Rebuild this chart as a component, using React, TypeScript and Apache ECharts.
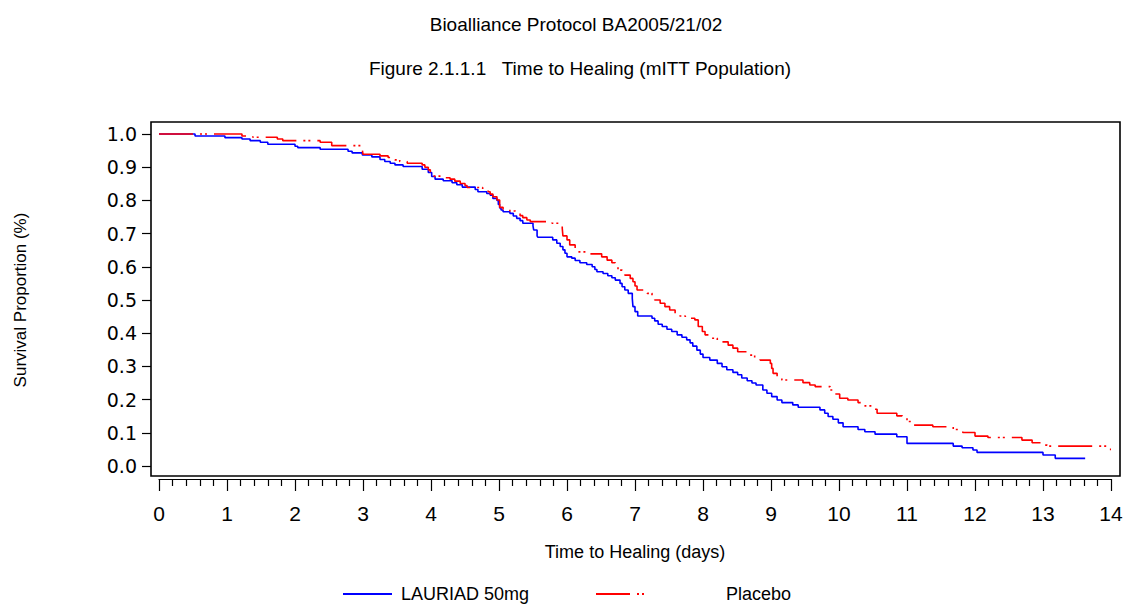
import React, { useEffect, useRef } from "react";
import * as echarts from "echarts";

// Kaplan-Meier steps: [time (days), survival proportion after the step]
const lauriadSteps: [number, number][] = [
  [0, 1.0], [0.53, 0.994], [0.97, 0.989], [1.22, 0.985], [1.34, 0.98], [1.49, 0.975], [1.6, 0.969],
  [2.0, 0.963], [2.04, 0.959], [2.37, 0.954], [2.78, 0.948], [2.84, 0.943], [2.99, 0.937], [3.13, 0.931],
  [3.25, 0.923], [3.32, 0.917], [3.4, 0.912], [3.47, 0.907], [3.59, 0.902], [3.87, 0.894], [3.96, 0.884],
  [4.01, 0.872], [4.06, 0.864], [4.18, 0.859], [4.31, 0.853], [4.38, 0.847], [4.46, 0.84], [4.65, 0.833],
  [4.69, 0.826], [4.82, 0.821], [4.87, 0.816], [4.91, 0.806], [4.97, 0.8], [4.99, 0.788], [5.01, 0.777],
  [5.03, 0.771], [5.06, 0.766], [5.16, 0.761], [5.21, 0.753], [5.26, 0.746], [5.31, 0.739], [5.35, 0.731],
  [5.5, 0.723], [5.51, 0.711], [5.56, 0.693], [5.57, 0.689], [5.79, 0.681], [5.85, 0.671], [5.9, 0.661],
  [5.94, 0.651], [5.97, 0.641], [6.0, 0.63], [6.07, 0.626], [6.12, 0.619], [6.19, 0.612], [6.29, 0.607],
  [6.37, 0.6], [6.41, 0.592], [6.44, 0.585], [6.53, 0.58], [6.6, 0.573], [6.66, 0.567], [6.71, 0.56],
  [6.78, 0.55], [6.81, 0.54], [6.85, 0.53], [6.9, 0.52], [6.96, 0.505], [6.97, 0.48], [7.0, 0.465],
  [7.04, 0.452], [7.25, 0.445], [7.29, 0.437], [7.34, 0.427], [7.4, 0.42], [7.47, 0.412], [7.54, 0.405],
  [7.62, 0.395], [7.69, 0.388], [7.76, 0.38], [7.81, 0.371], [7.85, 0.361], [7.91, 0.349], [7.96, 0.337],
  [8.0, 0.327], [8.1, 0.319], [8.21, 0.309], [8.28, 0.299], [8.35, 0.29], [8.44, 0.282], [8.51, 0.275],
  [8.57, 0.265], [8.65, 0.257], [8.72, 0.25], [8.78, 0.244], [8.88, 0.229], [8.94, 0.219], [9.01, 0.209],
  [9.09, 0.199], [9.16, 0.191], [9.32, 0.184], [9.4, 0.177], [9.72, 0.169], [9.79, 0.159], [9.84, 0.149],
  [9.91, 0.141], [9.99, 0.13], [10.06, 0.118], [10.28, 0.11], [10.38, 0.103], [10.53, 0.096], [10.85, 0.088],
  [11.0, 0.068], [11.68, 0.06], [11.81, 0.055], [11.97, 0.048], [12.03, 0.041], [13.0, 0.033], [13.18, 0.023],
  [13.62, 0.023],
];

const placeboSteps: [number, number][] = [
  [0, 1.0], [1.22, 0.994], [1.38, 0.99], [1.74, 0.985], [1.82, 0.98], [2.37, 0.975], [2.54, 0.965],
  [2.99, 0.952], [3.0, 0.939], [3.25, 0.934], [3.37, 0.929], [3.47, 0.922], [3.54, 0.917], [3.65, 0.912],
  [3.87, 0.907], [3.91, 0.9], [3.96, 0.892], [3.99, 0.882], [4.03, 0.873], [4.21, 0.868], [4.28, 0.864],
  [4.35, 0.858], [4.43, 0.851], [4.5, 0.845], [4.53, 0.839], [4.76, 0.833], [4.84, 0.826], [4.87, 0.819],
  [4.91, 0.811], [4.97, 0.801], [5.01, 0.779], [5.06, 0.773], [5.16, 0.768], [5.24, 0.761], [5.31, 0.754],
  [5.35, 0.748], [5.41, 0.741], [5.46, 0.736], [5.78, 0.731], [5.93, 0.716], [5.94, 0.693], [6.0, 0.681],
  [6.04, 0.666], [6.12, 0.653], [6.16, 0.645], [6.34, 0.639], [6.51, 0.63], [6.59, 0.62], [6.66, 0.612],
  [6.71, 0.6], [6.75, 0.59], [6.81, 0.582], [6.85, 0.575], [6.93, 0.565], [6.97, 0.555], [7.0, 0.542],
  [7.03, 0.53], [7.18, 0.52], [7.25, 0.51], [7.29, 0.5], [7.37, 0.49], [7.44, 0.48], [7.51, 0.47],
  [7.59, 0.46], [7.66, 0.452], [7.74, 0.445], [7.88, 0.44], [7.93, 0.42], [7.99, 0.405], [8.03, 0.395],
  [8.1, 0.385], [8.21, 0.374], [8.37, 0.364], [8.44, 0.355], [8.51, 0.344], [8.69, 0.334], [8.76, 0.324],
  [8.84, 0.319], [8.99, 0.309], [9.01, 0.294], [9.03, 0.279], [9.09, 0.264], [9.16, 0.259], [9.47, 0.251],
  [9.57, 0.244], [9.65, 0.239], [9.87, 0.229], [9.94, 0.217], [10.01, 0.204], [10.13, 0.199], [10.28, 0.191],
  [10.38, 0.181], [10.49, 0.171], [10.56, 0.159], [10.85, 0.151], [10.93, 0.144], [11.0, 0.134], [11.07, 0.123],
  [11.38, 0.118], [11.68, 0.11], [11.82, 0.101], [12.0, 0.09], [12.19, 0.086], [12.69, 0.078], [12.84, 0.07],
  [13.0, 0.063], [13.06, 0.06], [13.94, 0.05], [14.0, 0.05],
];

const seriesNames = ["LAURIAD 50mg", "Placebo"];
const titleText = "Bioalliance Protocol BA2005/21/02";
const subtitleText = "Figure 2.1.1.1   Time to Healing (mITT Population)";
const xAxisName = "Time to Healing (days)";
const yAxisName = "Survival Proportion (%)";

const FONT = "'Liberation Sans', Arial, sans-serif";

export default function App() {
  const ref = useRef<HTMLDivElement>(null);

  useEffect(() => {
    document.body.style.margin = "0";
    const chart = echarts.init(ref.current!, null, { renderer: "svg" });
    chart.setOption({
      animation: false,
      backgroundColor: "#fff",
      title: [
        {
          text: titleText,
          left: 571,
          top: 10,
          textAlign: "center",
          textStyle: { fontFamily: FONT, fontSize: 19, fontWeight: "normal", color: "#000" },
        },
        {
          text: subtitleText,
          left: 575,
          top: 54,
          textAlign: "center",
          textStyle: { fontFamily: FONT, fontSize: 19, fontWeight: "normal", color: "#000" },
        },
      ],
      legend: [
        {
          data: [seriesNames[0]],
          left: 342,
          top: 585,
          padding: 0,
          itemWidth: 49,
          itemHeight: 12,
          itemStyle: { opacity: 0 },
          textStyle: { fontFamily: FONT, fontSize: 18, color: "#000", padding: [0, 0, 0, 4] },
        },
        {
          data: [seriesNames[1]],
          left: 595,
          top: 585,
          padding: 0,
          itemWidth: 50,
          itemHeight: 12,
          itemStyle: { opacity: 0 },
          textStyle: { fontFamily: FONT, fontSize: 18, color: "#000", padding: [0, 0, 0, 75] },
        },
      ],
      grid: { left: 159, top: 134, width: 952, height: 332, containLabel: false },
      xAxis: {
        type: "value",
        min: 0,
        max: 14,
        interval: 1,
        offset: 13,
        name: xAxisName,
        nameLocation: "middle",
        nameGap: 64,
        nameTextStyle: { fontFamily: FONT, fontSize: 18, color: "#000" },
        axisLine: { show: true, onZero: false, lineStyle: { color: "#000", width: 1.2 } },
        axisTick: { show: true, length: 12, inside: false, lineStyle: { color: "#000", width: 1.2 } },
        minorTick: { show: true, splitNumber: 5, length: 7, lineStyle: { color: "#000", width: 1.2 } },
        axisLabel: { margin: 24, fontFamily: FONT, fontSize: 21, color: "#000" },
        splitLine: { show: false },
      },
      yAxis: {
        type: "value",
        min: 0,
        max: 1,
        interval: 0.1,
        offset: 8,
        name: yAxisName,
        nameLocation: "middle",
        nameGap: 122,
        nameRotate: 90,
        nameTextStyle: { fontFamily: FONT, fontSize: 17, color: "#000" },
        axisLine: { show: false, onZero: false },
        axisTick: { show: true, length: 9, lineStyle: { color: "#000", width: 1.2 } },
        axisLabel: {
          margin: 14,
          fontFamily: "'DejaVu Sans', " + FONT,
          fontSize: 19,
          color: "#000",
          formatter: (v: number) => v.toFixed(1),
        },
        splitLine: { show: false },
      },
      graphic: [
        {
          type: "rect",
          shape: { x: 151, y: 122, width: 969, height: 354 },
          style: { fill: "none", stroke: "#000", lineWidth: 1.6 },
          silent: true,
        },
      ],
      series: [
        {
          name: seriesNames[0],
          type: "line",
          step: "end",
          data: lauriadSteps,
          showSymbol: false,
          symbol: "none",
          clip: false,
          lineStyle: { color: "#0000ff", width: 1.6 },
          itemStyle: { color: "#0000ff" },
        },
        {
          name: seriesNames[1],
          type: "line",
          step: "end",
          data: placeboSteps,
          showSymbol: false,
          symbol: "none",
          clip: false,
          lineStyle: { color: "#ff0000", width: 1.6, type: [34, 7, 2, 3, 2, 7] },
          itemStyle: { color: "#ff0000" },
        },
      ],
    });
    return () => chart.dispose();
  }, []);

  return <div ref={ref} style={{ width: 1131, height: 608 }} />;
}
